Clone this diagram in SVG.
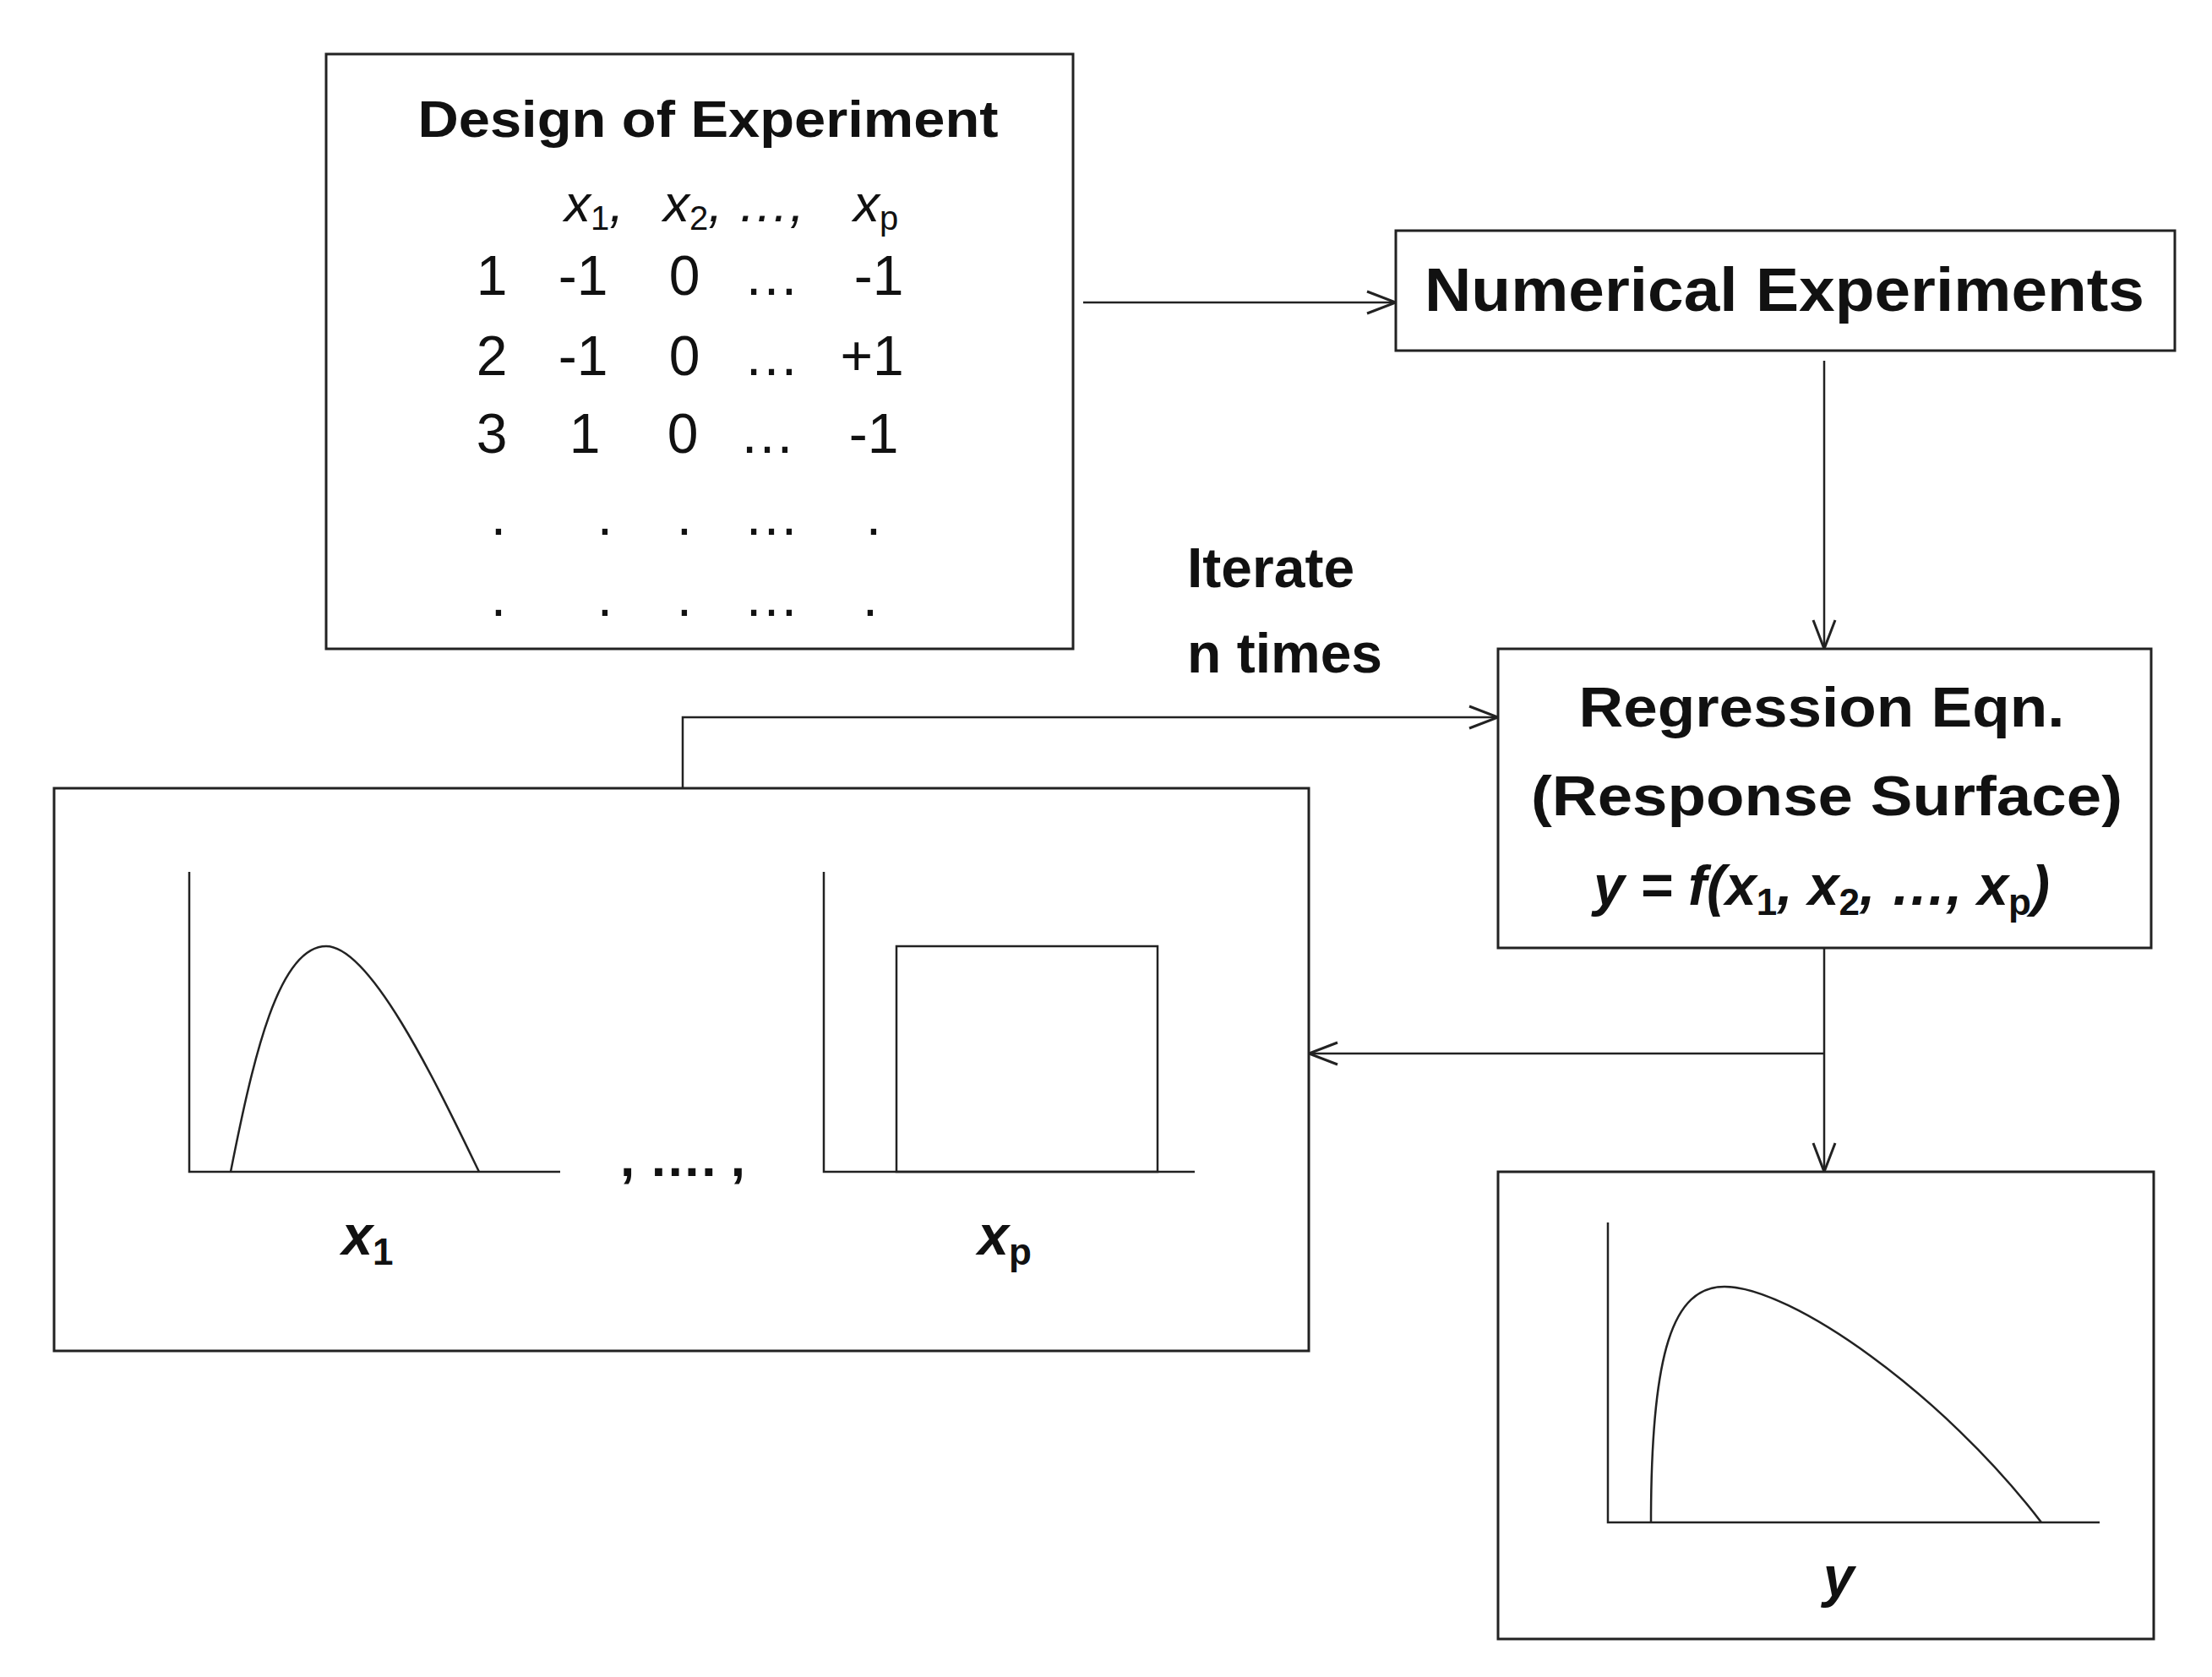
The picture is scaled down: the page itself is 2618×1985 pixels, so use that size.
<svg xmlns="http://www.w3.org/2000/svg" width="2618" height="1985" viewBox="0 0 2618 1985">
<defs>
<marker id="ah" markerWidth="40" markerHeight="30" refX="36" refY="15" orient="auto" markerUnits="userSpaceOnUse"><path d="M2,2 L36,15 L2,28" fill="none" stroke="#222" stroke-width="3"/></marker>
</defs>
<style>
.box{fill:#fff;stroke:#222;stroke-width:3}
.ln{fill:none;stroke:#222;stroke-width:2.5}
.t{font-family:"Liberation Sans",Arial,sans-serif;fill:#111}
.b{font-weight:bold}
.i{font-style:italic}
.m{text-anchor:middle}
.s{font-style:normal}
</style>
<rect width="2618" height="1985" fill="#fff"/>
<g id="connectors">
<line class="ln" x1="1282" y1="358" x2="1652" y2="358" marker-end="url(#ah)"/>
<line class="ln" x1="2159" y1="427" x2="2159" y2="768" marker-end="url(#ah)"/>
<polyline class="ln" points="808,933 808,849 1773,849" marker-end="url(#ah)"/>
<line class="ln" x1="2159" y1="1122" x2="2159" y2="1387" marker-end="url(#ah)"/>
<line class="ln" x1="2159" y1="1247" x2="1549" y2="1247" marker-end="url(#ah)"/>
</g>
<g id="doe">
<rect class="box" x="386" y="64" width="884" height="704"/>
<text class="t b m" x="838" y="162" font-size="62" textLength="687" lengthAdjust="spacingAndGlyphs">Design of Experiment</text>
<g class="t" font-size="62">
<text class="i" x="668" y="262">x<tspan class="s" font-size="40" dy="10">1</tspan><tspan dy="-10">,</tspan></text>
<text class="i" x="785" y="262">x<tspan class="s" font-size="40" dy="10">2</tspan><tspan dy="-10">, …,</tspan></text>
<text class="i" x="1010" y="262">x<tspan class="s" font-size="40" dy="10">p</tspan></text>
</g>
<g class="t m" font-size="66">
<text x="582" y="349">1</text><text x="690" y="349">-1</text><text x="810" y="349">0</text><text x="913" y="349">…</text><text x="1040" y="349">-1</text>
<text x="582" y="444">2</text><text x="690" y="444">-1</text><text x="810" y="444">0</text><text x="913" y="444">…</text><text x="1032" y="444">+1</text>
<text x="582" y="536">3</text><text x="692" y="536">1</text><text x="808" y="536">0</text><text x="908" y="536">…</text><text x="1034" y="536">-1</text>
<text x="590" y="633">.</text><text x="716" y="633">.</text><text x="810" y="633">.</text><text x="913" y="633">…</text><text x="1034" y="633">.</text>
<text x="590" y="729">.</text><text x="716" y="729">.</text><text x="810" y="729">.</text><text x="913" y="729">…</text><text x="1030" y="729">.</text>
</g>
</g>
<g id="numexp">
<rect class="box" x="1652" y="273" width="922" height="142"/>
<text class="t b m" x="2112" y="368" font-size="72" textLength="852" lengthAdjust="spacingAndGlyphs">Numerical Experiments</text>
</g>
<g id="iterate">
<text class="t b" x="1405" y="695" font-size="66">Iterate</text>
<text class="t b" x="1405" y="796" font-size="66">n times</text>
</g>
<g id="regression">
<rect class="box" x="1773" y="768" width="773" height="354"/>
<text class="t b m" x="2156" y="860" font-size="66" textLength="575" lengthAdjust="spacingAndGlyphs">Regression Eqn.</text>
<text class="t b m" x="2162" y="965" font-size="66" textLength="700" lengthAdjust="spacingAndGlyphs">(Response Surface)</text>
<text class="t b i m" x="2156" y="1071" font-size="66">y = f(x<tspan class="s" font-size="44" dy="12">1</tspan><tspan dy="-12">, x</tspan><tspan class="s" font-size="44" dy="12">2</tspan><tspan dy="-12">, …, x</tspan><tspan class="s" font-size="44" dy="12">p</tspan><tspan dy="-12">)</tspan></text>
</g>
<g id="inputs">
<rect class="box" x="64" y="933" width="1485" height="666"/>
<polyline class="ln" points="224,1032 224,1387 663,1387"/>
<path class="ln" d="M273,1387 C300,1250 330,1120 386,1120 C440,1120 520,1290 567,1387"/>
<text class="t b i m" x="435" y="1485" font-size="66">x<tspan class="s" font-size="44" dy="12">1</tspan></text>
<text class="t b m" x="808" y="1392" font-size="62">, …. ,</text>
<polyline class="ln" points="975,1032 975,1387 1414,1387"/>
<rect class="ln" x="1061" y="1120" width="309" height="267"/>
<text class="t b i m" x="1189" y="1485" font-size="66">x<tspan class="s" font-size="44" dy="12">p</tspan></text>
</g>
<g id="output">
<rect class="box" x="1773" y="1387" width="776" height="553"/>
<polyline class="ln" points="1903,1447 1903,1802 2485,1802"/>
<path class="ln" d="M1954,1802 C1954,1600 1980,1523 2041,1523 C2120,1523 2300,1650 2416,1802"/>
<text class="t b i m" x="2176" y="1889" font-size="66">y</text>
</g>
</svg>
